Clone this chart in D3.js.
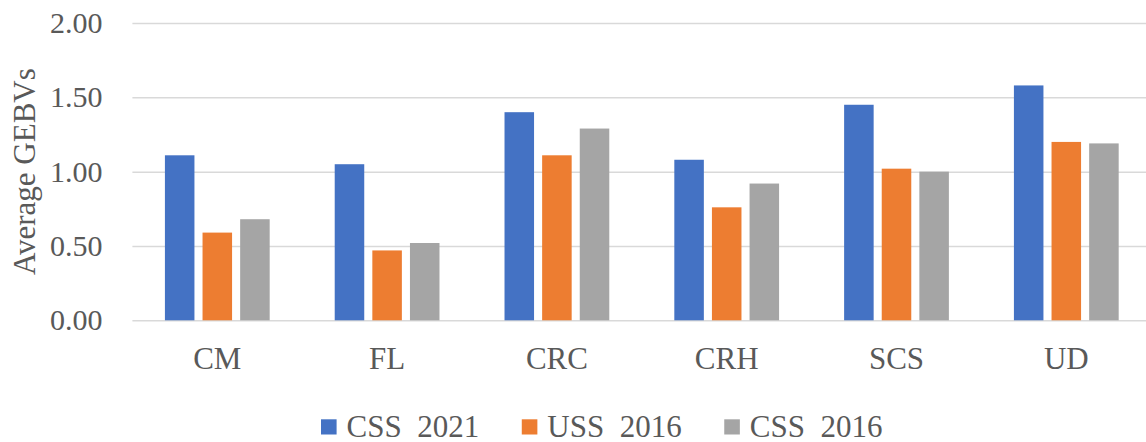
<!DOCTYPE html>
<html>
<head>
<meta charset="utf-8">
<script src="https://cdnjs.cloudflare.com/ajax/libs/d3/7.8.5/d3.min.js"></script>
<style>
  body { margin: 0; background: #fff; }
  svg { display: block; }
  svg text { font-family: "Liberation Serif", "Times New Roman", serif !important; fill: #595959; }
</style>
</head>
<body>
<div id="viz"></div>
<script>
var categories = ["CM", "FL", "CRC", "CRH", "SCS", "UD"];
var seriesNames = ["CSS  2021", "USS  2016", "CSS  2016"];
var css2021 = [1.11, 1.05, 1.40, 1.08, 1.45, 1.58];
var uss2016 = [0.59, 0.47, 1.11, 0.76, 1.02, 1.20];
var css2016 = [0.68, 0.52, 1.29, 0.92, 1.00, 1.19];
var yTicks = [0, 0.5, 1.0, 1.5, 2.0];
var colors = ["#4472C4", "#ED7D31", "#A5A5A5"];

var W = 1146, H = 442;
var plot = { left: 132.4, right: 1151.2, top: 23, bottom: 320.3 };

var rows = categories.map(function (c, i) {
  return { cat: c, vals: [css2021[i], uss2016[i], css2016[i]] };
});

var svg = d3.select("#viz").append("svg")
  .attr("width", W)
  .attr("height", H);

var x0 = d3.scaleBand()
  .domain(categories)
  .range([plot.left, plot.right])
  .paddingInner(0.383)
  .paddingOuter(0.1915);

var x1 = d3.scaleBand()
  .domain(d3.range(seriesNames.length))
  .range([0, x0.bandwidth()])
  .paddingInner(0.215);

var y = d3.scaleLinear()
  .domain([0, 2])
  .range([plot.bottom, plot.top]);

// gridlines + y tick labels
var yAxis = svg.append("g")
  .attr("transform", "translate(" + plot.left + ",0)")
  .call(d3.axisLeft(y)
    .tickValues(yTicks)
    .tickFormat(d3.format(".2f"))
    .tickSizeInner(-(W - plot.left))
    .tickSizeOuter(0)
    .tickPadding(30));
yAxis.attr("font-family", null).attr("font-size", null);
yAxis.select(".domain").remove();
yAxis.selectAll("line").attr("stroke", "#D9D9D9").attr("stroke-width", 1.5);
yAxis.selectAll("text")
  .attr("font-size", "30px")
  .attr("fill", "#595959");

// bars
var groups = svg.append("g").selectAll("g")
  .data(rows)
  .enter().append("g")
  .attr("transform", function (d) { return "translate(" + x0(d.cat) + ",0)"; });

groups.selectAll("rect")
  .data(function (d) { return d.vals; })
  .enter().append("rect")
  .attr("x", function (d, i) { return x1(i); })
  .attr("y", function (d) { return y(d); })
  .attr("width", x1.bandwidth())
  .attr("height", function (d) { return y(0) - y(d); })
  .attr("fill", function (d, i) { return colors[i]; });

// x labels
svg.append("g").selectAll("text")
  .data(categories)
  .enter().append("text")
  .attr("x", function (d) { return x0(d) + x0.bandwidth() / 2; })
  .attr("y", 368.5)
  .attr("text-anchor", "middle")
  .attr("font-size", "31px")
  .text(function (d) { return d; });

// y title
svg.append("text")
  .attr("transform", "translate(34.5," + ((plot.top + plot.bottom) / 2) + ") rotate(-90)")
  .attr("text-anchor", "middle")
  .attr("font-size", "31px")
  .text("Average GEBVs");

// legend
var legend = svg.append("g");
var lx = 321;
seriesNames.forEach(function (name, i) {
  legend.append("rect")
    .attr("x", lx)
    .attr("y", 419.3)
    .attr("width", 15.6)
    .attr("height", 15.2)
    .attr("fill", colors[i]);
  var t = legend.append("text")
    .attr("x", lx + 25.6)
    .attr("y", 436.5)
    .attr("font-size", "31px")
    .style("white-space", "pre")
    .text(name);
  lx += 25.6 + t.node().getComputedTextLength() + 42.5;
});
</script>
</body>
</html>
